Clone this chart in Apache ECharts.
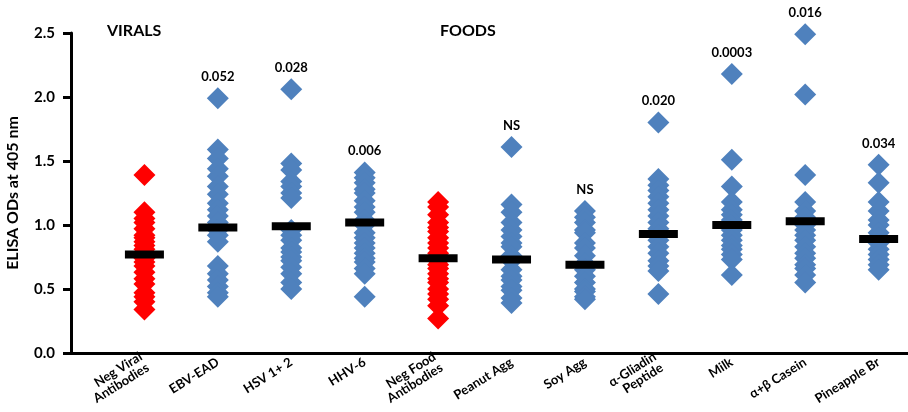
<!DOCTYPE html>
<html>
<head>
<meta charset="utf-8">
<script src="https://cdn.jsdelivr.net/npm/echarts@6/dist/echarts.min.js"></script>
<style>
  html, body { margin: 0; padding: 0; background: #fff; }
  #chart { width: 908px; height: 412px; }
</style>
</head>
<body>
<div id="chart"></div>
<script>
// Antigen groups along the x axis
const categories = [
  'Neg Viral\nAntibodies', 'EBV-EAD', 'HSV 1+ 2', 'HHV-6',
  'Neg Food\nAntibodies', 'Peanut Agg', 'Soy Agg', 'α-Gliadin\nPeptide',
  'Milk', 'α+β Casein', 'Pineapple Br'
];
// Whether a group is a negative control (drawn red)
const isControl = [true, false, false, false, true, false, false, false, false, false, false];

// ELISA OD readings per group
const negViral  = [1.39, 1.10, 1.05, 1.02, 0.97, 0.92, 0.90, 0.87, 0.84, 0.81, 0.79, 0.76, 0.74, 0.71, 0.68, 0.63, 0.58, 0.54, 0.47, 0.44, 0.40, 0.34];
const ebvEad    = [1.99, 1.59, 1.52, 1.44, 1.38, 1.30, 1.24, 1.17, 1.12, 1.07, 1.02, 0.96, 0.92, 0.87, 0.68, 0.62, 0.57, 0.52, 0.47, 0.44];
const hsv12     = [2.06, 1.48, 1.43, 1.34, 1.30, 1.25, 1.21, 0.96, 0.92, 0.88, 0.82, 0.79, 0.75, 0.72, 0.67, 0.62, 0.55, 0.50];
const hhv6      = [1.41, 1.37, 1.33, 1.28, 1.25, 1.19, 1.14, 1.10, 1.04, 1.00, 0.94, 0.90, 0.86, 0.82, 0.78, 0.74, 0.71, 0.66, 0.62, 0.44];
const negFood   = [1.18, 1.14, 1.08, 1.02, 0.98, 0.95, 0.90, 0.86, 0.82, 0.78, 0.75, 0.72, 0.69, 0.66, 0.62, 0.58, 0.55, 0.50, 0.46, 0.42, 0.37, 0.27];
const peanutAgg = [1.61, 1.16, 1.10, 1.02, 0.96, 0.91, 0.86, 0.83, 0.76, 0.72, 0.65, 0.60, 0.57, 0.52, 0.49, 0.43, 0.39];
const soyAgg    = [1.11, 1.06, 1.02, 0.96, 0.94, 0.86, 0.82, 0.76, 0.70, 0.65, 0.60, 0.55, 0.50, 0.48, 0.44, 0.42];
const gliadin   = [1.80, 1.36, 1.31, 1.27, 1.22, 1.17, 1.12, 1.07, 1.02, 0.97, 0.92, 0.88, 0.83, 0.78, 0.72, 0.68, 0.64, 0.46];
const milk      = [2.18, 1.51, 1.30, 1.18, 1.12, 1.08, 1.04, 1.00, 0.96, 0.92, 0.88, 0.84, 0.81, 0.77, 0.73, 0.61];
const casein    = [2.49, 2.02, 1.39, 1.18, 1.11, 1.06, 1.00, 0.96, 0.92, 0.88, 0.83, 0.78, 0.74, 0.69, 0.66, 0.61, 0.55];
const pineapple = [1.47, 1.33, 1.18, 1.11, 1.04, 1.00, 0.94, 0.90, 0.86, 0.81, 0.77, 0.73, 0.69, 0.65];

const groups = [negViral, ebvEad, hsv12, hhv6, negFood, peanutAgg, soyAgg, gliadin, milk, casein, pineapple];

// Group means (black bars)
const means = [0.77, 0.98, 0.99, 1.02, 0.74, 0.73, 0.69, 0.93, 1.00, 1.03, 0.89];

// P values versus the matching negative control
const pValues = ['', '0.052', '0.028', '0.006', '', 'NS', 'NS', '0.020', '0.0003', '0.016', '0.034'];

// Section headings
const sections = ['VIRALS', 'FOODS'];

// Y-axis range
const yMin = 0, yMax = 2.5, yStep = 0.5;

const FONT = 'Lato, "Open Sans", sans-serif';

// One scatter point per reading; the top reading of a group carries its p value
function pointsFor(control) {
  const out = [];
  groups.forEach((vals, gi) => {
    if (isControl[gi] !== control) return;
    const top = Math.max(...vals);
    vals.forEach(v => {
      const item = { value: [gi + 1, v] };
      if (v === top && pValues[gi]) {
        item.label = { show: true, formatter: pValues[gi] };
      }
      out.push(item);
    });
  });
  return out;
}

// Group name for an integer tick on the x axis
function tickName(v) {
  if (!Number.isInteger(v) || v < 1 || v > categories.length) return '';
  return categories[v - 1];
}

const chart = echarts.init(document.getElementById('chart'), null, { renderer: 'canvas' });

const diamond = {
  type: 'scatter',
  symbol: 'diamond',
  symbolSize: 22,
  label: {
    show: false,
    position: 'top',
    distance: 4,
    color: '#000',
    fontFamily: FONT,
    fontWeight: 'bold',
    fontSize: 13
  }
};

chart.setOption({
  animation: false,
  title: [
    { text: sections[0], left: 102, top: 18,
      textStyle: { fontFamily: FONT, fontWeight: 'bold', fontSize: 16, color: '#000' } },
    { text: sections[1], left: 435, top: 18,
      textStyle: { fontFamily: FONT, fontWeight: 'bold', fontSize: 16, color: '#000' } }
  ],
  grid: { left: 71, right: 0, top: 33, bottom: 59, outerBoundsMode: 'none' },
  xAxis: {
    type: 'value',
    min: 0,
    max: 11.4,
    interval: 1,
    splitLine: { show: false },
    axisTick: { show: false },
    axisLine: { show: true, onZero: false, lineStyle: { color: '#000', width: 3 } },
    axisLabel: {
      rotate: 32,
      margin: 8,
      color: '#000',
      fontFamily: FONT, fontWeight: 'bold', fontSize: 13, lineHeight: 13,
      formatter: tickName
    }
  },
  yAxis: {
    type: 'value',
    min: yMin,
    max: yMax,
    interval: yStep,
    name: 'ELISA ODs at 405 nm',
    nameLocation: 'middle',
    nameGap: 50,
    nameTextStyle: { color: '#000', fontFamily: FONT, fontWeight: 'bold', fontSize: 16 },
    splitLine: { show: false },
    axisLine: { show: true, lineStyle: { color: '#000', width: 3 } },
    axisTick: { show: true, length: 8, lineStyle: { color: '#000', width: 3 } },
    axisLabel: {
      color: '#000',
      margin: 16,
      fontFamily: FONT,
      fontWeight: 'bold',
      fontSize: 15,
      formatter: v => v.toFixed(1)
    }
  },
  series: [
    Object.assign({}, diamond, {
      name: 'Controls',
      itemStyle: { color: '#FF0000', opacity: 1 },
      data: pointsFor(true)
    }),
    Object.assign({}, diamond, {
      name: 'Antigens',
      itemStyle: { color: '#4F81BD', opacity: 1 },
      data: pointsFor(false)
    }),
    {
      name: 'Mean',
      type: 'scatter',
      symbol: 'rect',
      symbolSize: [39, 8],
      clip: false,
      z: 5,
      itemStyle: { color: '#000', opacity: 1 },
      data: means.map((m, i) => [i + 1, m]),
      // divider between the viral and food panels
      markLine: {
        silent: true,
        symbol: ['none', 'none'],
        label: { show: false },
        lineStyle: { color: '#000', width: 3, type: 'solid' },
        data: [[{ coord: [4.5, 0] }, { coord: [4.5, 2.66] }]]
      }
    }
  ]
});
</script>
</body>
</html>
